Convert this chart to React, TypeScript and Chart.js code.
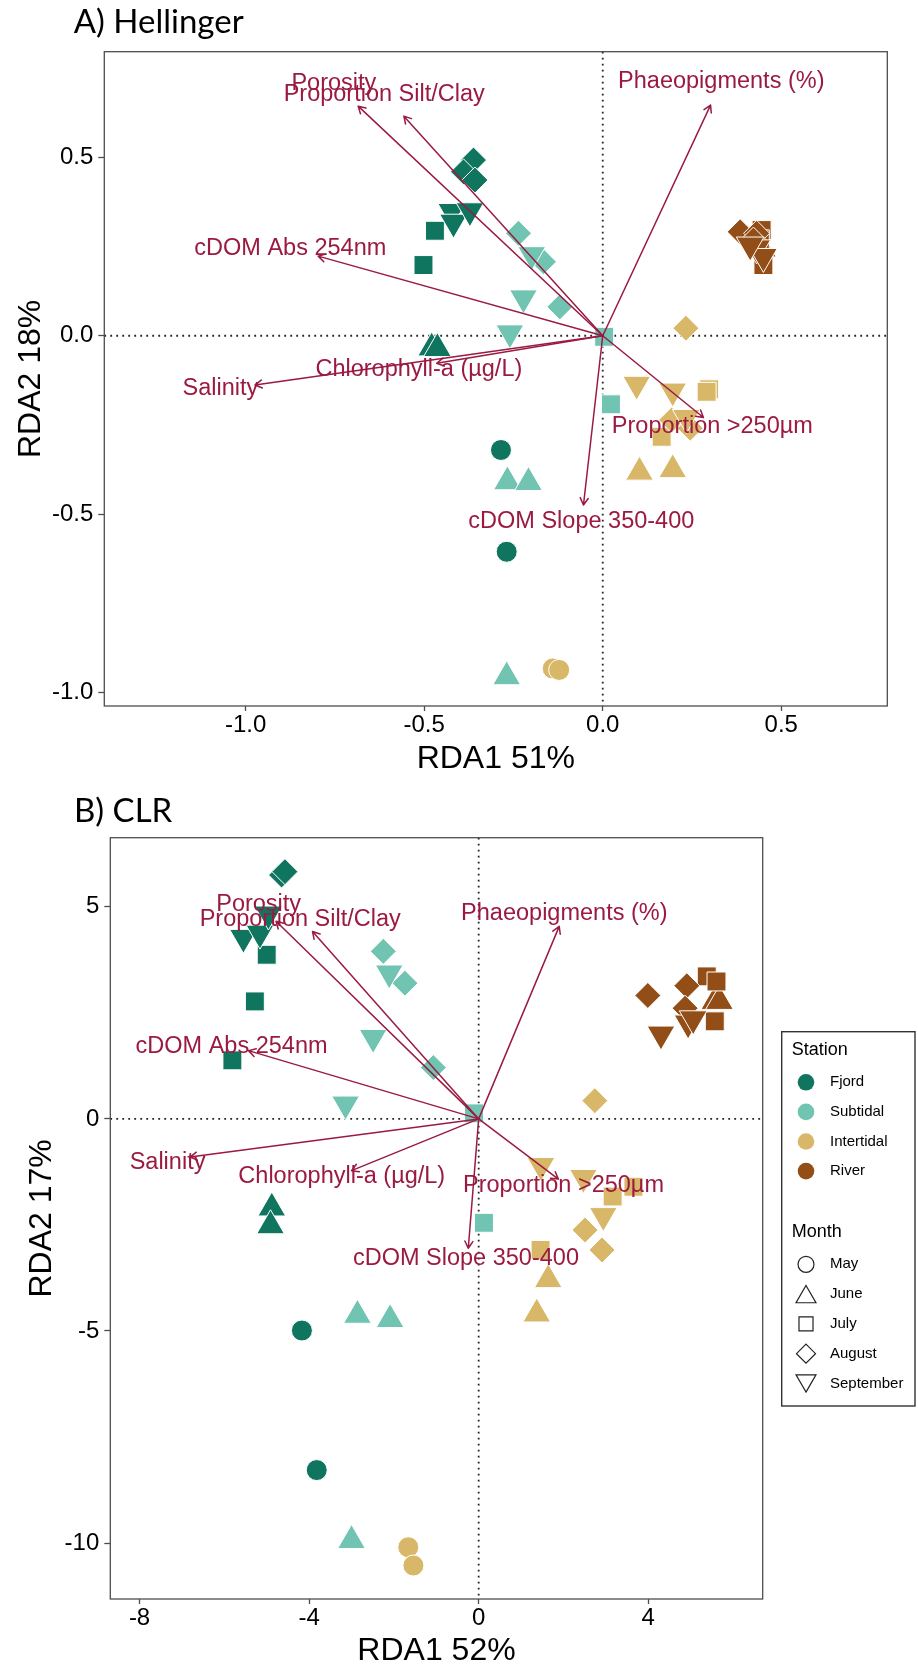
import React, { useEffect, useRef } from 'react';
import { Chart, registerables } from 'chart.js';

Chart.register(...registerables);

// ---------- categories ----------
const STATIONS = ['Fjord', 'Subtidal', 'Intertidal', 'River'];
const STATION_COLORS = ['#10755F', '#72C4B2', '#D9B768', '#924E16'];
const MONTHS = ['May', 'June', 'July', 'August', 'September'];

// ---------- site scores: [RDA1, RDA2, month index] ----------
type Pt = [number, number, number];

const HEL_FJORD: Pt[] = [
  [-0.285, -0.32, 0], [-0.269, -0.605, 0],
  [-0.479, -0.034, 1], [-0.463, -0.036, 1],
  [-0.47, 0.294, 2], [-0.502, 0.198, 2],
  [-0.362, 0.492, 3], [-0.39, 0.459, 3], [-0.358, 0.436, 3],
  [-0.423, 0.348, 4], [-0.418, 0.318, 4], [-0.372, 0.35, 4],
];
const HEL_SUBTIDAL: Pt[] = [
  [-0.267, -0.409, 1], [-0.208, -0.411, 1], [-0.269, -0.955, 1],
  [0.004, -0.003, 2], [0.023, -0.192, 2],
  [-0.236, 0.287, 3], [-0.166, 0.207, 3], [-0.12, 0.081, 3],
  [-0.199, 0.227, 4], [-0.222, 0.106, 4], [-0.26, 0.008, 4],
];
const HEL_INTERTIDAL: Pt[] = [
  [-0.14, -0.932, 0], [-0.122, -0.936, 0],
  [0.103, -0.382, 1], [0.196, -0.375, 1],
  [0.298, -0.15, 2], [0.291, -0.157, 2], [0.165, -0.283, 2],
  [0.233, 0.021, 3], [0.193, -0.236, 3], [0.245, -0.259, 3],
  [0.095, -0.136, 4], [0.196, -0.155, 4], [0.234, -0.229, 4],
];
const HEL_RIVER: Pt[] = [
  [0.44, 0.25, 1], [0.447, 0.243, 1],
  [0.445, 0.296, 2], [0.45, 0.198, 2], [0.44, 0.27, 2],
  [0.385, 0.291, 3], [0.431, 0.287, 3], [0.422, 0.268, 3],
  [0.431, 0.246, 4], [0.45, 0.222, 4], [0.413, 0.254, 4],
];

const CLR_FJORD: Pt[] = [
  [-4.17, -4.99, 0], [-3.82, -8.28, 0],
  [-4.88, -2.1, 1], [-4.91, -2.52, 1],
  [-5.0, 3.87, 2], [-5.28, 2.77, 2], [-5.81, 1.38, 2],
  [-4.65, 5.75, 3], [-4.57, 5.83, 3],
  [-5.55, 4.28, 4], [-5.16, 4.38, 4], [-4.96, 4.83, 4],
];
const CLR_SUBTIDAL: Pt[] = [
  [-2.86, -4.63, 1], [-2.09, -4.73, 1], [-3.0, -9.94, 1],
  [-0.11, 0.13, 2], [0.125, -2.45, 2],
  [-2.25, 3.95, 3], [-1.74, 3.2, 3], [-1.07, 1.21, 3],
  [-2.11, 3.44, 4], [-2.49, 1.92, 4], [-3.14, 0.35, 4],
];
const CLR_INTERTIDAL: Pt[] = [
  [-1.66, -10.1, 0], [-1.54, -10.53, 0],
  [1.64, -3.79, 1], [1.37, -4.6, 1],
  [3.65, -1.6, 2], [3.16, -1.83, 2], [1.46, -3.09, 2],
  [2.74, 0.43, 3], [2.51, -2.62, 3], [2.91, -3.09, 3],
  [1.47, -1.1, 4], [2.47, -1.38, 4], [2.94, -2.28, 4],
];
const CLR_RIVER: Pt[] = [
  [5.57, 2.77, 1], [5.68, 2.77, 1],
  [5.38, 3.36, 2], [5.61, 3.24, 2], [5.57, 2.3, 2],
  [3.99, 2.91, 3], [4.91, 3.14, 3], [4.87, 2.61, 3],
  [4.3, 2.0, 4], [4.94, 2.26, 4], [5.06, 2.36, 4],
];

// ---------- environmental fitted vectors ----------
const ENV_VARS = [
  'Porosity',
  'Proportion Silt/Clay',
  'cDOM Abs 254nm',
  'Salinity',
  'Chlorophyll-a (µg/L)',
  'Phaeopigments (%)',
  'Proportion >250µm',
  'cDOM Slope 350-400',
];
const HEL_ARROW_X = [-0.685, -0.557, -0.797, -0.974, -0.465, 0.302, 0.282, -0.054];
const HEL_ARROW_Y = [0.643, 0.615, 0.223, -0.138, -0.077, 0.646, -0.229, -0.474];
const HEL_LABEL_X = [-0.753, -0.612, -0.875, -1.071, -0.515, 0.332, 0.307, -0.06];
const HEL_LABEL_Y = [0.707, 0.675, 0.245, -0.149, -0.094, 0.711, -0.255, -0.521];

const CLR_ARROW_X = [-4.78, -3.92, -5.43, -6.81, -3.0, 1.9, 1.88, -0.245];
const CLR_ARROW_Y = [4.66, 4.42, 1.61, -0.9, -1.22, 4.54, -1.42, -3.05];
const CLR_LABEL_X = [-5.19, -4.21, -5.83, -7.34, -3.23, 2.02, 2.0, -0.3];
const CLR_LABEL_Y = [5.05, 4.69, 1.71, -1.02, -1.36, 4.85, -1.58, -3.29];

// ---------- axes ----------
const HEL_X_RANGE = [-1.396, 0.797];
const HEL_Y_RANGE = [-1.037, 0.7955];
const HEL_X_TICKS = [-1.0, -0.5, 0.0, 0.5];
const HEL_Y_TICKS = [-1.0, -0.5, 0.0, 0.5];

const CLR_X_RANGE = [-8.69, 6.7];
const CLR_Y_RANGE = [-11.32, 6.63];
const CLR_X_TICKS = [-8, -4, 0, 4];
const CLR_Y_TICKS = [-10, -5, 0, 5];

// ---------- styling ----------
const SANS = '"Liberation Sans", Arial, sans-serif';
const HEADING = 'Lato, "Open Sans", sans-serif';
const ARROW_COLOR = '#9B1A42';
const AXIS_GREY = '#4d4d4d';

// month -> marker
const MONTH_STYLES = ['circle', 'triangle', 'rect', 'rectRot', 'triangle'];
const MONTH_ROTATION = [0, 0, 0, 0, 180];
const MONTH_RADIUS = [10.5, 16, 13.4, 13, 16];

type PanelSpec = {
  title: string;
  xTitle: string;
  yTitle: string;
  groups: Pt[][];
  xRange: number[];
  yRange: number[];
  xTicks: number[];
  yTicks: number[];
  decimals: number;
  arrowX: number[];
  arrowY: number[];
  labelX: number[];
  labelY: number[];
  width: number;
  height: number;
  padTop: number;
  padRight: number;
  yAxisWidth: number;
  xAxisHeight: number;
  titleXY: [number, number];
  yTitlePad: number;
  xTitlePad: number;
  legend: boolean;
};

const HEL_SPEC: PanelSpec = {
  title: 'A) Hellinger',
  xTitle: 'RDA1 51%',
  yTitle: 'RDA2 18%',
  groups: [HEL_FJORD, HEL_SUBTIDAL, HEL_INTERTIDAL, HEL_RIVER],
  xRange: HEL_X_RANGE,
  yRange: HEL_Y_RANGE,
  xTicks: HEL_X_TICKS,
  yTicks: HEL_Y_TICKS,
  decimals: 1,
  arrowX: HEL_ARROW_X,
  arrowY: HEL_ARROW_Y,
  labelX: HEL_LABEL_X,
  labelY: HEL_LABEL_Y,
  width: 918,
  height: 780,
  padTop: 51.7,
  padRight: 30.7,
  yAxisWidth: 104.3,
  xAxisHeight: 74,
  titleXY: [73.7, 33.3],
  yTitlePad: 15,
  xTitlePad: 4.5,
  legend: false,
};

const CLR_SPEC: PanelSpec = {
  title: 'B) CLR',
  xTitle: 'RDA1 52%',
  yTitle: 'RDA2 17%',
  groups: [CLR_FJORD, CLR_SUBTIDAL, CLR_INTERTIDAL, CLR_RIVER],
  xRange: CLR_X_RANGE,
  yRange: CLR_Y_RANGE,
  xTicks: CLR_X_TICKS,
  yTicks: CLR_Y_TICKS,
  decimals: 0,
  arrowX: CLR_ARROW_X,
  arrowY: CLR_ARROW_Y,
  labelX: CLR_LABEL_X,
  labelY: CLR_LABEL_Y,
  width: 918,
  height: 888,
  padTop: 57.7,
  padRight: 155.3,
  yAxisWidth: 110.3,
  xAxisHeight: 69,
  titleXY: [74, 42.3],
  yTitlePad: 26,
  xTitlePad: 1,
  legend: true,
};

// outline key shapes for the month legend
function keyShape(ctx: CanvasRenderingContext2D, m: number, x: number, y: number) {
  ctx.beginPath();
  if (m === 0) {
    ctx.arc(x, y, 8, 0, Math.PI * 2);
  } else if (m === 1 || m === 4) {
    const r = 11.5;
    const dir = m === 1 ? 1 : -1;
    const h = 1.5 * r;
    const w = Math.sqrt(3) * r;
    const apex = y - (dir * h) / 2;
    const base = y + (dir * h) / 2;
    ctx.moveTo(x, apex);
    ctx.lineTo(x + w / 2, base);
    ctx.lineTo(x - w / 2, base);
    ctx.closePath();
  } else if (m === 2) {
    ctx.rect(x - 7, y - 7, 14, 14);
  } else {
    const r = 9.5;
    ctx.moveTo(x, y - r);
    ctx.lineTo(x + r, y);
    ctx.lineTo(x, y + r);
    ctx.lineTo(x - r, y);
    ctx.closePath();
  }
  ctx.stroke();
}

function drawLegend(ctx: CanvasRenderingContext2D) {
  ctx.save();
  ctx.strokeStyle = '#333';
  ctx.lineWidth = 1.4;
  ctx.strokeRect(781.7, 251.7, 133.3, 374.3);
  ctx.textAlign = 'left';
  ctx.textBaseline = 'middle';
  ctx.fillStyle = '#000';
  ctx.font = `18px ${SANS}`;
  ctx.fillText('Station', 791.7, 270);
  ctx.fillText('Month', 791.7, 452.3);
  ctx.font = `15px ${SANS}`;
  STATIONS.forEach((s, i) => {
    const cy = 302.3 + i * 29.6;
    ctx.beginPath();
    ctx.fillStyle = STATION_COLORS[i];
    ctx.arc(806, cy, 8.3, 0, Math.PI * 2);
    ctx.fill();
    ctx.fillStyle = '#000';
    ctx.fillText(s, 830, cy);
  });
  ctx.strokeStyle = '#222';
  ctx.lineWidth = 1.2;
  MONTHS.forEach((mName, i) => {
    const cy = 484.3 + i * 29.8;
    keyShape(ctx, i, 806, cy);
    ctx.fillText(mName, 830, cy);
  });
  ctx.restore();
}

function RdaPanel({ spec }: { spec: PanelSpec }) {
  const ref = useRef<HTMLCanvasElement>(null);

  useEffect(() => {
    const canvas = ref.current;
    if (!canvas) return;

    const decor = {
      id: 'rdaDecor',
      beforeDatasetsDraw(chart: any) {
        const { ctx, chartArea: a, scales } = chart;
        const x0 = scales.x.getPixelForValue(0);
        const y0 = scales.y.getPixelForValue(0);
        ctx.save();
        ctx.strokeStyle = '#222';
        ctx.lineWidth = 1.8;
        ctx.setLineDash([1.8, 4.2]);
        ctx.beginPath();
        ctx.moveTo(a.left, y0);
        ctx.lineTo(a.right, y0);
        ctx.moveTo(x0, a.top);
        ctx.lineTo(x0, a.bottom);
        ctx.stroke();
        ctx.restore();
      },
      afterDatasetsDraw(chart: any) {
        const { ctx, scales } = chart;
        const ox = scales.x.getPixelForValue(0);
        const oy = scales.y.getPixelForValue(0);
        ctx.save();
        ctx.strokeStyle = ARROW_COLOR;
        ctx.lineWidth = 1.5;
        ctx.lineCap = 'round';
        ctx.lineJoin = 'round';
        spec.arrowX.forEach((ax, i) => {
          const tx = scales.x.getPixelForValue(ax);
          const ty = scales.y.getPixelForValue(spec.arrowY[i]);
          const ang = Math.atan2(ty - oy, tx - ox);
          const L = 8;
          const h = Math.PI / 6;
          ctx.beginPath();
          ctx.moveTo(ox, oy);
          ctx.lineTo(tx, ty);
          ctx.moveTo(tx - L * Math.cos(ang - h), ty - L * Math.sin(ang - h));
          ctx.lineTo(tx, ty);
          ctx.lineTo(tx - L * Math.cos(ang + h), ty - L * Math.sin(ang + h));
          ctx.stroke();
        });
        ctx.fillStyle = ARROW_COLOR;
        ctx.font = `23.5px ${SANS}`;
        ctx.textAlign = 'center';
        ctx.textBaseline = 'middle';
        ENV_VARS.forEach((name, i) => {
          ctx.fillText(
            name,
            scales.x.getPixelForValue(spec.labelX[i]),
            scales.y.getPixelForValue(spec.labelY[i])
          );
        });
        ctx.restore();
      },
      afterDraw(chart: any) {
        const { ctx, chartArea: a } = chart;
        ctx.save();
        ctx.strokeStyle = AXIS_GREY;
        ctx.lineWidth = 1.3;
        ctx.strokeRect(a.left, a.top, a.right - a.left, a.bottom - a.top);
        ctx.fillStyle = '#000';
        ctx.font = `33px ${HEADING}`;
        ctx.textAlign = 'left';
        ctx.textBaseline = 'alphabetic';
        ctx.fillText(spec.title, spec.titleXY[0], spec.titleXY[1]);
        ctx.restore();
        if (spec.legend) drawLegend(ctx);
      },
    };

    const datasets = spec.groups.map((pts, s) => ({
      label: STATIONS[s],
      data: pts.map((p) => ({ x: p[0], y: p[1] })),
      pointStyle: pts.map((p) => MONTH_STYLES[p[2]]),
      pointRotation: pts.map((p) => MONTH_ROTATION[p[2]]),
      pointRadius: pts.map((p) => MONTH_RADIUS[p[2]]),
      pointHoverRadius: pts.map((p) => MONTH_RADIUS[p[2]]),
      pointBackgroundColor: STATION_COLORS[s],
      pointBorderColor: '#ffffff',
      pointBorderWidth: 1,
      backgroundColor: STATION_COLORS[s],
      borderColor: '#ffffff',
    }));

    const fmt = (v: number) => (spec.decimals ? v.toFixed(spec.decimals) : String(v));

    const chart = new Chart(canvas, {
      type: 'scatter',
      data: { datasets: datasets as any },
      plugins: [decor],
      options: {
        animation: false,
        responsive: false,
        devicePixelRatio: 1,
        events: [],
        layout: { padding: { top: spec.padTop, right: spec.padRight, left: 0, bottom: 0 } },
        plugins: {
          legend: { display: false },
          tooltip: { enabled: false },
        },
        scales: {
          x: {
            type: 'linear',
            min: spec.xRange[0],
            max: spec.xRange[1],
            afterBuildTicks: (s: any) => {
              s.ticks = spec.xTicks.map((v) => ({ value: v }));
            },
            afterFit: (s: any) => {
              s.height = spec.xAxisHeight;
            },
            ticks: {
              callback: (v: any) => fmt(Number(v)),
              font: { family: SANS, size: 24 },
              color: '#000',
              padding: 0,
              autoSkip: false,
              maxRotation: 0,
            },
            grid: {
              drawOnChartArea: false,
              drawTicks: true,
              tickLength: 5,
              tickColor: AXIS_GREY,
              tickWidth: 1.3,
            },
            border: { display: false },
            title: {
              display: true,
              text: spec.xTitle,
              color: '#000',
              font: { family: SANS, size: 32, lineHeight: 1 },
              padding: { top: 0, bottom: spec.xTitlePad },
            },
          },
          y: {
            type: 'linear',
            min: spec.yRange[0],
            max: spec.yRange[1],
            afterBuildTicks: (s: any) => {
              s.ticks = spec.yTicks.map((v) => ({ value: v }));
            },
            afterFit: (s: any) => {
              s.width = spec.yAxisWidth;
            },
            ticks: {
              callback: (v: any) => fmt(Number(v)),
              font: { family: SANS, size: 24 },
              color: '#000',
              padding: 5,
              autoSkip: false,
            },
            grid: {
              drawOnChartArea: false,
              drawTicks: true,
              tickLength: 6,
              tickColor: AXIS_GREY,
              tickWidth: 1.3,
            },
            border: { display: false },
            title: {
              display: true,
              text: spec.yTitle,
              color: '#000',
              font: { family: SANS, size: 32, lineHeight: 1 },
              padding: { top: spec.yTitlePad, bottom: 0 },
            },
          },
        },
      } as any,
    });

    return () => chart.destroy();
  }, [spec]);

  return (
    <canvas
      ref={ref}
      width={spec.width}
      height={spec.height}
      style={{ display: 'block', width: spec.width, height: spec.height }}
    />
  );
}

export default function App() {
  return (
    <div style={{ position: 'absolute', left: 0, top: 0, width: 918, height: 1668, background: '#ffffff' }}>
      <RdaPanel spec={HEL_SPEC} />
      <RdaPanel spec={CLR_SPEC} />
    </div>
  );
}
